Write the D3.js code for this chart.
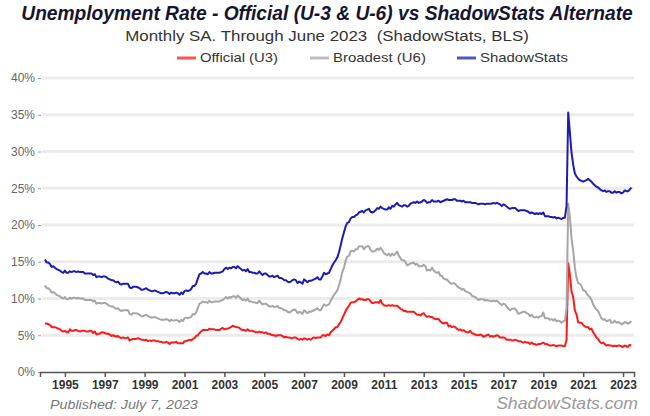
<!DOCTYPE html>
<html>
<head>
<meta charset="utf-8">
<script src="https://cdn.jsdelivr.net/npm/d3@7"></script>
<style>
  body { margin: 0; background: #fff; }
  svg { display: block; font-family: 'Liberation Sans', Arial, sans-serif; }
</style>
</head>
<body>
<script>
let width = 650
let height = 416
let start_year = 1994

// monthly values, one row per year, Jan..Dec (2023 through June)
let official_u3 = [
  [6.6, 6.6, 6.5, 6.4, 6.1, 6.1, 6.1, 6.0, 5.9, 5.8, 5.6, 5.5],
  [5.6, 5.4, 5.4, 5.8, 5.6, 5.6, 5.7, 5.7, 5.6, 5.5, 5.6, 5.6],
  [5.6, 5.5, 5.5, 5.6, 5.6, 5.3, 5.5, 5.1, 5.2, 5.2, 5.4, 5.4],
  [5.3, 5.2, 5.2, 5.1, 4.9, 5.0, 4.9, 4.8, 4.9, 4.7, 4.6, 4.7],
  [4.6, 4.6, 4.7, 4.3, 4.4, 4.5, 4.5, 4.5, 4.6, 4.5, 4.4, 4.4],
  [4.3, 4.4, 4.2, 4.3, 4.2, 4.3, 4.3, 4.2, 4.2, 4.1, 4.1, 4.0],
  [4.0, 4.1, 4.0, 3.8, 4.0, 4.0, 4.0, 4.1, 3.9, 3.9, 3.9, 3.9],
  [4.2, 4.2, 4.3, 4.4, 4.3, 4.5, 4.6, 4.9, 5.0, 5.3, 5.5, 5.7],
  [5.7, 5.7, 5.7, 5.9, 5.8, 5.8, 5.8, 5.7, 5.7, 5.7, 5.9, 6.0],
  [5.8, 5.9, 5.9, 6.0, 6.1, 6.3, 6.2, 6.1, 6.1, 6.0, 5.8, 5.7],
  [5.7, 5.6, 5.8, 5.6, 5.6, 5.6, 5.5, 5.4, 5.4, 5.5, 5.4, 5.4],
  [5.3, 5.4, 5.2, 5.2, 5.1, 5.0, 5.0, 4.9, 5.0, 5.0, 5.0, 4.9],
  [4.7, 4.8, 4.7, 4.7, 4.6, 4.6, 4.7, 4.7, 4.5, 4.4, 4.5, 4.4],
  [4.6, 4.5, 4.4, 4.5, 4.4, 4.6, 4.7, 4.6, 4.7, 4.7, 4.7, 5.0],
  [5.0, 4.9, 5.1, 5.0, 5.4, 5.6, 5.8, 6.1, 6.1, 6.5, 6.8, 7.3],
  [7.8, 8.3, 8.7, 9.0, 9.4, 9.5, 9.5, 9.6, 9.8, 10.0, 9.9, 9.9],
  [9.8, 9.8, 9.9, 9.9, 9.6, 9.4, 9.4, 9.5, 9.5, 9.4, 9.8, 9.3],
  [9.1, 9.0, 9.0, 9.1, 9.0, 9.1, 9.0, 9.0, 9.0, 8.8, 8.6, 8.5],
  [8.3, 8.3, 8.2, 8.2, 8.2, 8.2, 8.2, 8.0, 7.8, 7.8, 7.7, 7.9],
  [8.0, 7.7, 7.5, 7.6, 7.5, 7.5, 7.3, 7.2, 7.2, 7.2, 6.9, 6.7],
  [6.6, 6.7, 6.7, 6.2, 6.3, 6.1, 6.2, 6.1, 5.9, 5.7, 5.8, 5.6],
  [5.7, 5.5, 5.4, 5.4, 5.6, 5.3, 5.2, 5.1, 5.0, 5.0, 5.1, 5.0],
  [4.8, 4.9, 5.0, 5.1, 4.8, 4.9, 4.8, 4.9, 5.0, 4.9, 4.7, 4.7],
  [4.7, 4.6, 4.4, 4.4, 4.4, 4.3, 4.3, 4.4, 4.3, 4.2, 4.2, 4.1],
  [4.0, 4.1, 4.0, 4.0, 3.8, 4.0, 3.8, 3.8, 3.7, 3.8, 3.8, 3.9],
  [4.0, 3.8, 3.8, 3.7, 3.6, 3.6, 3.7, 3.6, 3.5, 3.6, 3.6, 3.6],
  [3.5, 3.5, 4.4, 14.8, 13.2, 11.0, 10.2, 8.4, 7.8, 6.8, 6.7, 6.7],
  [6.4, 6.2, 6.1, 6.1, 5.8, 5.9, 5.4, 5.1, 4.7, 4.5, 4.1, 3.9],
  [4.0, 3.8, 3.6, 3.7, 3.6, 3.6, 3.5, 3.6, 3.5, 3.6, 3.6, 3.5],
  [3.4, 3.6, 3.5, 3.4, 3.7, 3.6]
]

let broadest_u6 = [
  [11.8, 11.4, 11.4, 11.2, 10.8, 10.9, 10.7, 10.5, 10.4, 10.3, 10.1, 10.0],
  [10.2, 9.9, 9.9, 10.1, 10.0, 10.1, 10.1, 10.0, 10.1, 10.0, 10.0, 10.0],
  [9.8, 9.8, 9.8, 9.8, 9.8, 9.6, 9.7, 9.3, 9.4, 9.4, 9.3, 9.4],
  [9.4, 9.3, 9.1, 9.0, 8.9, 8.9, 8.7, 8.6, 8.7, 8.4, 8.3, 8.4],
  [8.4, 8.4, 8.4, 7.9, 7.8, 8.0, 8.0, 8.0, 7.9, 7.8, 7.6, 7.6],
  [7.7, 7.8, 7.6, 7.5, 7.4, 7.4, 7.5, 7.4, 7.3, 7.2, 7.1, 7.1],
  [7.1, 7.2, 7.1, 6.9, 7.1, 7.0, 7.0, 7.1, 7.0, 6.8, 7.1, 6.9],
  [7.3, 7.4, 7.3, 7.4, 7.5, 7.9, 7.8, 8.1, 8.7, 9.3, 9.4, 9.6],
  [9.5, 9.5, 9.4, 9.7, 9.5, 9.5, 9.6, 9.6, 9.6, 9.6, 9.7, 9.8],
  [10.0, 10.2, 10.0, 10.2, 10.1, 10.3, 10.3, 10.1, 10.4, 10.2, 10.0, 9.8],
  [9.9, 9.7, 10.0, 9.6, 9.6, 9.5, 9.5, 9.4, 9.4, 9.7, 9.4, 9.2],
  [9.3, 9.3, 9.1, 8.9, 8.9, 9.0, 8.8, 8.9, 9.0, 8.7, 8.7, 8.6],
  [8.4, 8.4, 8.2, 8.1, 8.2, 8.4, 8.5, 8.4, 8.0, 8.2, 8.1, 7.9],
  [8.4, 8.2, 8.0, 8.2, 8.2, 8.3, 8.4, 8.5, 8.7, 8.4, 8.4, 8.8],
  [9.2, 9.0, 9.1, 9.2, 9.7, 10.1, 10.5, 10.8, 11.1, 11.8, 12.6, 13.6],
  [14.2, 15.1, 15.7, 15.8, 16.4, 16.5, 16.4, 16.7, 16.7, 17.1, 17.1, 17.1],
  [16.7, 17.0, 17.1, 17.1, 16.6, 16.4, 16.4, 16.5, 16.8, 16.6, 16.9, 16.6],
  [16.2, 16.0, 15.9, 16.1, 15.8, 16.1, 15.9, 16.1, 16.4, 15.8, 15.5, 15.2],
  [15.2, 15.0, 14.5, 14.6, 14.8, 14.8, 14.9, 14.6, 14.7, 14.4, 14.4, 14.4],
  [14.6, 14.4, 13.8, 13.9, 13.8, 14.2, 13.8, 13.6, 13.5, 13.6, 13.1, 13.1],
  [12.7, 12.6, 12.6, 12.3, 12.1, 12.0, 12.1, 12.0, 11.7, 11.5, 11.4, 11.2],
  [11.3, 11.0, 10.9, 10.8, 10.7, 10.4, 10.3, 10.2, 10.0, 9.8, 9.9, 9.9],
  [9.9, 9.7, 9.8, 9.7, 9.7, 9.6, 9.7, 9.6, 9.7, 9.5, 9.3, 9.1],
  [9.3, 9.2, 8.9, 8.6, 8.4, 8.6, 8.6, 8.6, 8.3, 7.9, 8.0, 8.1],
  [8.2, 8.2, 8.0, 7.9, 7.6, 7.8, 7.5, 7.4, 7.5, 7.4, 7.6, 7.6],
  [8.1, 7.3, 7.3, 7.3, 7.1, 7.2, 7.0, 7.2, 6.9, 7.0, 6.9, 6.7],
  [6.9, 7.0, 8.7, 22.9, 21.1, 18.1, 16.5, 14.2, 12.8, 12.1, 12.0, 11.7],
  [11.1, 11.1, 10.7, 10.4, 10.2, 9.8, 9.2, 8.8, 8.5, 8.3, 7.8, 7.3],
  [7.1, 7.2, 6.9, 7.0, 7.1, 6.7, 6.7, 7.0, 6.7, 6.8, 6.7, 6.5],
  [6.6, 6.8, 6.7, 6.6, 6.7, 6.9]
]

let shadowstats = [
  [15.3, 14.9, 14.9, 14.7, 14.3, 14.4, 14.2, 14.0, 13.9, 13.8, 13.6, 13.5],
  [13.8, 13.5, 13.5, 13.7, 13.6, 13.7, 13.7, 13.6, 13.7, 13.6, 13.6, 13.6],
  [13.4, 13.4, 13.4, 13.4, 13.4, 13.2, 13.3, 12.9, 13.0, 13.0, 12.9, 13.0],
  [13.0, 12.9, 12.7, 12.6, 12.5, 12.5, 12.3, 12.2, 12.3, 12.0, 11.9, 12.0],
  [12.0, 12.0, 12.0, 11.5, 11.4, 11.6, 11.6, 11.6, 11.5, 11.4, 11.2, 11.2],
  [11.3, 11.4, 11.2, 11.1, 11.0, 11.0, 11.1, 11.0, 10.9, 10.8, 10.7, 10.7],
  [10.8, 10.9, 10.8, 10.6, 10.8, 10.7, 10.7, 10.8, 10.7, 10.5, 10.8, 10.6],
  [11.0, 11.1, 11.0, 11.1, 11.3, 11.7, 11.7, 12.0, 12.7, 13.3, 13.4, 13.6],
  [13.4, 13.4, 13.3, 13.6, 13.4, 13.4, 13.5, 13.5, 13.5, 13.5, 13.6, 13.7],
  [14.0, 14.2, 14.0, 14.2, 14.1, 14.3, 14.3, 14.1, 14.4, 14.2, 14.0, 13.8],
  [13.9, 13.7, 14.0, 13.6, 13.6, 13.5, 13.5, 13.4, 13.4, 13.7, 13.4, 13.2],
  [13.4, 13.4, 13.2, 13.0, 13.0, 13.1, 12.9, 13.0, 13.1, 12.8, 12.8, 12.7],
  [12.5, 12.5, 12.3, 12.2, 12.3, 12.5, 12.6, 12.5, 12.1, 12.3, 12.2, 12.0],
  [12.6, 12.4, 12.2, 12.4, 12.4, 12.5, 12.6, 12.7, 12.9, 12.6, 12.6, 13.0],
  [13.5, 13.3, 13.4, 13.5, 14.0, 14.5, 14.9, 15.2, 15.6, 16.3, 17.2, 18.2],
  [19.0, 19.8, 20.3, 20.4, 20.9, 21.1, 21.1, 21.3, 21.4, 21.7, 21.8, 21.9],
  [21.7, 22.0, 22.1, 22.2, 21.8, 21.7, 21.8, 22.0, 22.3, 22.2, 22.5, 22.3],
  [22.2, 22.1, 22.1, 22.4, 22.2, 22.6, 22.5, 22.8, 23.0, 22.7, 22.6, 22.5],
  [22.7, 22.7, 22.5, 22.6, 22.9, 23.0, 23.1, 23.0, 23.2, 23.0, 23.1, 23.2],
  [23.4, 23.3, 23.0, 23.1, 23.1, 23.4, 23.2, 23.2, 23.2, 23.3, 23.1, 23.2],
  [23.3, 23.4, 23.5, 23.4, 23.4, 23.4, 23.5, 23.5, 23.3, 23.3, 23.3, 23.2],
  [23.3, 23.1, 23.1, 23.1, 23.1, 23.0, 23.0, 23.0, 22.9, 22.8, 22.9, 22.9],
  [22.9, 22.8, 22.9, 22.9, 22.9, 22.9, 23.0, 22.9, 23.0, 22.9, 22.8, 22.6],
  [22.8, 22.7, 22.5, 22.3, 22.2, 22.3, 22.3, 22.3, 22.1, 21.9, 22.0, 22.0],
  [22.0, 22.0, 21.9, 21.8, 21.6, 21.7, 21.6, 21.5, 21.6, 21.5, 21.6, 21.5],
  [21.7, 21.2, 21.2, 21.2, 21.1, 21.1, 21.0, 21.1, 20.9, 21.0, 20.9, 20.8],
  [21.0, 21.0, 22.6, 35.3, 32.6, 29.8, 28.2, 27.0, 26.6, 26.3, 26.1, 26.0],
  [25.9, 26.0, 26.1, 26.3, 26.1, 25.9, 25.6, 25.4, 25.2, 25.1, 24.9, 24.7],
  [24.6, 24.7, 24.5, 24.6, 24.6, 24.4, 24.4, 24.6, 24.4, 24.5, 24.5, 24.3],
  [24.4, 24.7, 24.6, 24.6, 24.8, 25.1]
]

let series_names = ['Official (U3)', 'Broadest (U6)', 'ShadowStats']
let series_colors = ['#ff1a1a', '#a6a6a6', '#1c1cb0']
let year_ticks = [1995, 1997, 1999, 2001, 2003, 2005, 2007, 2009, 2011, 2013, 2015, 2017, 2019, 2021, 2023]
let pct_ticks = [0, 5, 10, 15, 20, 25, 30, 35, 40]

function to_points(rows) {
  return rows.flat().map((v, i) => ({t: start_year + i / 12, v: v}))
}

// squeeze or stretch a text horizontally so it spans `target` pixels
function fit_text(sel, cx, cy, target) {
  let w = sel.node().getComputedTextLength()
  sel.attr('x', 0).attr('y', 0)
    .attr('transform', `translate(${cx},${cy}) scale(${target / w},1)`)
}

let svg = d3.select('body').append('svg')
  .attr('width', width)
  .attr('height', height)

let x = d3.scaleLinear().domain([1993.75, 2023.55]).range([40, 634])
let y = d3.scaleLinear().domain([0, 40]).range([372, 78])

// titles
let title = svg.append('text')
  .attr('text-anchor', 'middle')
  .style('font-size', '20px').style('font-weight', 'bold').style('font-style', 'italic')
  .attr('fill', '#151530')
  .text('Unemployment Rate - Official (U-3 & U-6) vs ShadowStats Alternate')
fit_text(title, 327, 20, 612)

let subtitle = svg.append('text')
  .attr('text-anchor', 'middle')
  .style('font-size', '15px')
  .style('white-space', 'pre')
  .attr('fill', '#333')
  .text('Monthly SA. Through June 2023  (ShadowStats, BLS)')
fit_text(subtitle, 327, 41, 404)

// legend
let legend_x = [177, 310, 457]
let legend_w = [78, 93, 88]
let legend = svg.selectAll('g.legend')
  .data(series_names)
  .enter().append('g')
  .attr('class', 'legend')
  .attr('transform', (d, i) => `translate(${legend_x[i]},58)`)
legend.append('line')
  .attr('x1', 0).attr('x2', 19)
  .attr('stroke', (d, i) => series_colors[i])
  .attr('stroke-width', 3)
  .attr('opacity', 0.75)
legend.append('text')
  .style('font-size', '12px')
  .attr('fill', '#333')
  .text(d => d)
  .each(function(d, i) { fit_text(d3.select(this), 23, 4, legend_w[i]) })

// grid
svg.append('g')
  .selectAll('line')
  .data(pct_ticks.filter(d => d > 0))
  .enter().append('line')
  .attr('x1', 42).attr('x2', 634)
  .attr('y1', d => y(d)).attr('y2', d => y(d))
  .attr('stroke', '#ebebeb')
  .attr('stroke-width', 3)

// y axis
let y_axis = svg.append('g')
  .attr('transform', 'translate(41,0)')
  .call(d3.axisLeft(y).tickValues(pct_ticks).tickFormat(d => d + '%').tickSize(3).tickPadding(3))
y_axis.select('.domain').remove()
y_axis.selectAll('line').attr('stroke', '#999')
y_axis.selectAll('text')
  .style('font-size', '12px')
  .style('font-family', "'Liberation Sans', Arial, sans-serif")
  .attr('fill', '#666')

// x axis
let x_axis = svg.append('g')
  .attr('transform', 'translate(0,372)')
  .call(d3.axisBottom(x).tickValues(year_ticks).tickFormat(d3.format('d')).tickSize(5).tickPadding(3))
x_axis.select('.domain').attr('stroke', '#555').attr('stroke-width', 1.5)
x_axis.selectAll('line').attr('stroke', '#555').attr('stroke-width', 1.5)
x_axis.selectAll('text')
  .style('font-size', '12px')
  .style('font-weight', 'bold')
  .style('font-family', "'Liberation Sans', Arial, sans-serif")
  .attr('fill', '#333')

// lines
let line = d3.line()
  .x(d => x(d.t))
  .y(d => y(d.v))

let all_series = [official_u3, broadest_u6, shadowstats]
svg.append('g')
  .selectAll('path')
  .data(all_series)
  .enter().append('path')
  .attr('d', d => line(to_points(d)))
  .attr('fill', 'none')
  .attr('stroke', (d, i) => series_colors[i])
  .attr('stroke-width', 2)
  .attr('stroke-linejoin', 'round')

// footer
let published = svg.append('text')
  .style('font-size', '13px').style('font-style', 'italic')
  .attr('fill', '#777')
  .text('Published: July 7, 2023')
fit_text(published, 50, 409, 148)

let site = svg.append('text')
  .attr('text-anchor', 'end')
  .style('font-size', '17px').style('font-style', 'italic')
  .attr('fill', '#999')
  .text('ShadowStats.com')
fit_text(site, 638, 409, 142)
</script>
</body>
</html>
